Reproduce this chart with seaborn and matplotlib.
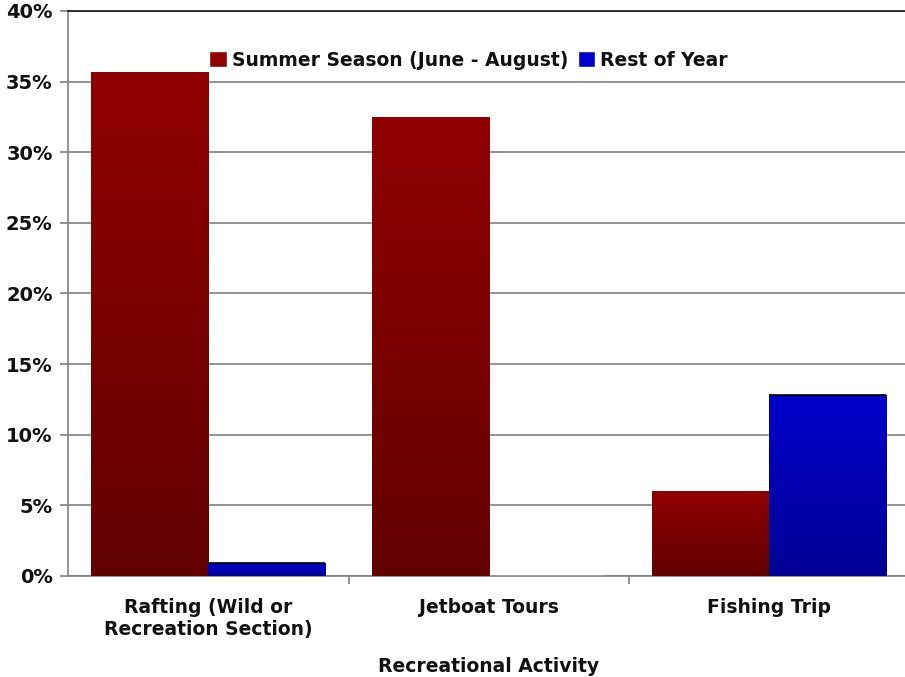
import numpy as np
import pandas as pd
import matplotlib
matplotlib.use("Agg")
import matplotlib.pyplot as plt
from matplotlib.colors import LinearSegmentedColormap
from matplotlib.ticker import FixedLocator, PercentFormatter
import seaborn as sns

activities = ["Rafting (Wild or\nRecreation Section)", "Jetboat Tours", "Fishing Trip"]
summer = [35.7, 32.5, 6.0]
rest_of_year = [0.9, 0.0, 12.8]
series = ["Summer Season (June - August)", "Rest of Year"]

df = pd.DataFrame({
    "Activity": activities * 2,
    "Share": summer + rest_of_year,
    "Season": [series[0]] * 3 + [series[1]] * 3,
})

sns.set_theme(style="white")
plt.rcParams["font.family"] = ["DejaVu Sans"]
plt.rcParams["font.weight"] = "bold"

fig = plt.figure(figsize=(9.05, 6.77), dpi=100)
ax = fig.add_axes([0.0751, 0.1492, 0.93, 0.8346])

top_colors = {series[0]: "#910000", series[1]: "#0000CC"}
bottom_colors = {series[0]: "#620000", series[1]: "#000094"}
palette = {s: top_colors[s] for s in series}

sns.barplot(data=df, x="Activity", y="Share", hue="Season", palette=palette,
            width=0.835, saturation=1, ax=ax, legend=True, zorder=3)

# vertical gradient fills for each bar
for container, s in zip(ax.containers, series):
    cmap = LinearSegmentedColormap.from_list(s, [bottom_colors[s], top_colors[s]])
    for patch in container.patches:
        x, y = patch.get_x(), patch.get_y()
        w, h = patch.get_width(), patch.get_height()
        if h <= 0:
            continue
        grad = np.linspace(0, 1, 256).reshape(-1, 1)
        im = ax.imshow(grad, cmap=cmap, aspect="auto", origin="lower",
                       extent=[x, x + w, y, y + h], zorder=4,
                       interpolation="bilinear")
        im.set_clip_path(patch)
        if s == series[1]:
            ax.plot([x, x + w], [y + h, y + h], color="black", lw=1.2,
                    zorder=5, solid_capstyle="butt")

ax.set_xlim(-0.5, 2.5)
ax.set_ylim(0, 40)
ax.yaxis.set_major_locator(FixedLocator(np.arange(0, 41, 5)))
ax.yaxis.set_major_formatter(PercentFormatter(decimals=0))
ax.grid(axis="y", color="#808080", lw=1.2, zorder=0)
ax.set_axisbelow(True)

ax.tick_params(axis="y", which="major", length=6, width=1.2, color="#808080",
               labelsize=14, pad=5, left=True)
ax.tick_params(axis="x", which="major", length=0, labelsize=13.5, pad=16)
ax.xaxis.set_minor_locator(FixedLocator([0.5, 1.5]))
ax.tick_params(axis="x", which="minor", length=6, width=1.2, color="#808080",
               bottom=True, direction="out")
for lbl in ax.get_xticklabels() + ax.get_yticklabels():
    lbl.set_fontweight("bold")
    lbl.set_color("#111111")

for side in ["left", "bottom"]:
    ax.spines[side].set_color("#808080")
    ax.spines[side].set_linewidth(1.2)
ax.spines["top"].set_color("#111111")
ax.spines["top"].set_linewidth(1.2)
ax.spines["right"].set_visible(False)

ax.set_ylabel("")
ax.set_xlabel("Recreational Activity", fontsize=13.5, fontweight="bold",
              color="#111111", labelpad=13)

handles, labels = ax.get_legend_handles_labels()
leg = ax.legend(handles, labels, loc="center left", bbox_to_anchor=(0.159, 0.913),
                ncol=2, frameon=False, fontsize=13.5, handlelength=0.95,
                handleheight=0.95, handletextpad=0.25, columnspacing=0.5,
                borderaxespad=0)
for t in leg.get_texts():
    t.set_fontweight("bold")
    t.set_color("#111111")

fig.savefig("out.png", dpi=100)
